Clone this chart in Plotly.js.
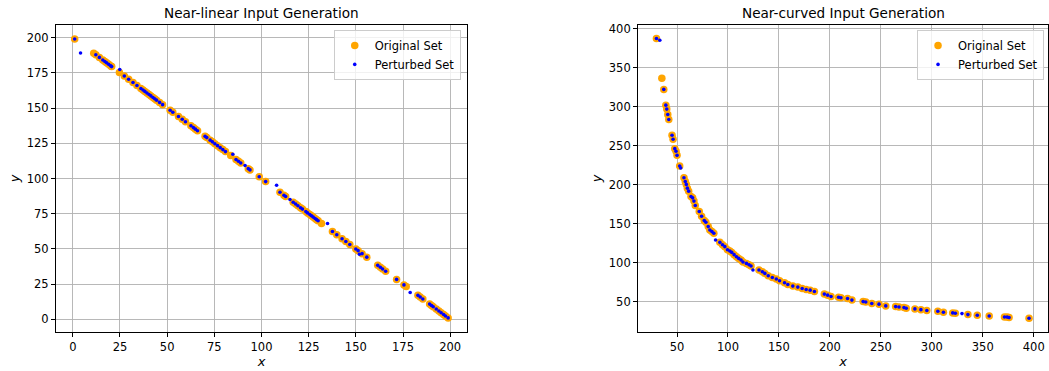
<!DOCTYPE html>
<html>
<head>
<meta charset="utf-8">
<script src="https://cdn.plot.ly/plotly-3.0.1.min.js"></script>
<style>html,body{margin:0;padding:0;background:#fff;}#chart{width:1049px;height:371px;}</style>
</head>
<body>
<div id="chart"></div>
<script>
// ---- Near-linear: original set ----
var linOrigX = [1.0, 11.1, 12.2, 14.1, 15.9, 17.0, 17.9, 19.0, 20.1, 20.6,
  24.7, 27.3, 29.6, 31.9, 34.0, 36.1, 37.2, 38.2, 39.3, 40.4, 41.4, 42.5, 43.4, 44.4, 46.0, 47.6,
  51.6, 53.0, 56.0, 58.0, 59.7, 62.6, 63.9, 65.0, 66.1,
  70.1, 71.0, 72.8, 74.0, 75.3, 76.7, 78.1, 79.5, 80.9, 83.7, 86.5, 87.8, 89.0, 93.0, 93.9,
  98.8, 102.2,
  109.8, 111.9, 112.8, 116.8, 118.1, 119.3, 120.7, 121.7, 123.5, 124.4, 125.6, 126.5, 127.4, 128.4, 129.2, 130.0, 131.8,
  137.6, 139.9, 142.7, 144.7, 146.8, 150.0, 151.2, 153.3, 155.8,
  161.6, 163.0, 164.2, 165.8, 171.6, 175.5, 176.7,
  182.9, 184.1, 185.5, 189.1, 190.1, 191.0, 192.6, 194.0, 195.2, 196.5, 197.5, 198.9];
var linOrigY = [199.0, 188.9, 187.8, 185.9, 184.1, 183.0, 182.1, 181.0, 179.9, 179.4,
  175.2, 172.7, 170.4, 168.1, 166.0, 163.9, 162.8, 161.8, 160.7, 159.6, 158.6, 157.5, 156.6, 155.6, 154.0, 152.4,
  148.4, 147.0, 144.0, 142.0, 140.3, 137.4, 136.1, 135.0, 133.9,
  129.9, 129.0, 127.2, 126.0, 124.7, 123.3, 121.9, 120.5, 119.1, 116.3, 113.5, 112.2, 111.0, 107.0, 106.1,
  101.2, 97.8,
  90.2, 88.1, 87.2, 83.2, 81.9, 80.7, 79.3, 78.3, 76.5, 75.6, 74.4, 73.5, 72.6, 71.6, 70.8, 70.0, 68.1,
  62.4, 60.1, 57.3, 55.3, 53.2, 50.0, 48.8, 46.7, 44.2,
  38.4, 37.0, 35.8, 34.2, 28.4, 24.5, 23.3,
  17.1, 15.9, 14.5, 10.9, 9.9, 9.0, 7.4, 6.0, 4.8, 3.5, 2.5, 1.1];
// ---- Near-linear: perturbed set ----
var linPertX = [1.0, 4.1, 12.2, 14.1, 15.9, 17.0, 17.9, 19.0, 20.1, 20.6,
  24.9, 27.3, 29.6, 31.9, 34.0, 36.1, 37.2, 38.2, 39.3, 40.4, 41.4, 42.5, 43.4, 44.4, 46.0, 47.6,
  51.6, 53.0, 56.0, 58.0, 59.7, 62.6, 63.9, 65.0, 66.1,
  70.1, 71.0, 72.8, 74.0, 75.3, 76.7, 78.1, 79.5, 80.9, 84.8, 86.5, 87.8, 89.0, 91.3, 93.0, 93.9,
  98.8, 102.2, 108.0,
  109.8, 111.9, 112.8, 115.1, 116.8, 118.1, 119.3, 120.7, 121.7, 123.5, 124.4, 125.6, 126.5, 127.4, 128.4, 129.2, 130.0, 135.0,
  137.6, 139.9, 142.7, 144.7, 146.8, 150.0, 151.2, 151.9, 153.3, 155.8,
  161.6, 163.0, 164.2, 165.8, 171.6, 175.5, 178.8,
  182.9, 184.1, 185.5, 189.1, 190.1, 191.0, 192.6, 194.0, 195.2, 196.5, 197.5, 198.9];
var linPertY = [199.0, 189.0, 187.8, 185.9, 184.1, 183.0, 182.1, 181.0, 179.9, 179.4,
  177.3, 172.7, 170.4, 168.1, 166.0, 163.9, 162.8, 161.8, 160.7, 159.6, 158.6, 157.5, 156.6, 155.6, 154.0, 152.4,
  148.4, 147.0, 144.0, 142.0, 140.3, 137.4, 136.1, 135.0, 133.9,
  129.9, 129.0, 127.2, 126.0, 124.7, 123.3, 121.9, 120.5, 119.1, 117.2, 113.5, 112.2, 111.0, 109.2, 107.0, 106.1,
  101.2, 97.8, 95.2,
  90.2, 88.1, 87.2, 85.1, 83.2, 81.9, 80.7, 79.3, 78.3, 76.5, 75.6, 74.4, 73.5, 72.6, 71.6, 70.8, 70.0, 68.1,
  62.4, 60.1, 57.3, 55.3, 53.2, 50.0, 48.8, 46.3, 46.7, 44.2,
  38.4, 37.0, 35.8, 34.2, 28.4, 24.5, 19.1,
  17.1, 15.9, 14.5, 10.9, 9.9, 9.0, 7.4, 6.0, 4.8, 3.5, 2.5, 1.1];

// ---- Near-curved: original set ----
var curOrigX = [29.8, 35.1, 37.0, 39.0, 39.9, 40.9, 41.9, 45.1, 46.1, 47.8, 49.0, 50.0, 52.6,
  56.8, 58.1, 59.1, 60.1, 61.4, 63.7, 65.3, 66.6, 67.9, 71.8, 74.1, 76.7, 78.3, 80.6, 82.2, 84.2, 86.1,
  92.0, 94.6, 96.9, 99.5, 101.8, 103.7, 106.0, 108.3, 110.5, 112.8, 114.7, 118.1, 120.6, 122.6,
  130.4, 133.7, 136.2, 139.5, 143.5, 147.4, 150.6, 155.5, 158.7, 163.6, 168.5, 172.8, 176.7, 180.6, 184.8,
  194.5, 197.8, 201.1, 208.5, 210.8, 217.3, 221.6, 232.6, 235.2, 241.1, 248.2, 254.8,
  264.5, 267.8, 272.7, 274.9, 283.4, 289.3, 295.1, 305.9, 311.4, 320.5, 323.1,
  335.4, 344.6, 356.3, 371.3, 373.9, 375.8, 395.4];
var curOrigY = [387.5, 336.5, 322.3, 302.1, 297.0, 290.1, 283.7, 263.5, 258.3, 246.3, 242.9, 237.7, 224.0,
  209.0, 204.2, 200.4, 195.6, 191.8, 185.0, 183.2, 179.0, 173.4, 165.6, 159.6, 154.0, 151.9, 146.3, 142.0, 139.9, 137.7,
  126.1, 123.1, 120.6, 116.7, 115.0, 113.2, 110.3, 107.7, 105.5, 103.4, 100.9, 99.1, 97.4, 95.7,
  90.6, 88.4, 86.3, 83.3, 81.1, 79.0, 76.8, 74.2, 72.0, 70.0, 68.7, 66.9, 65.6, 64.8, 63.0,
  59.7, 58.4, 56.6, 55.6, 55.0, 54.0, 52.0, 50.1, 49.5, 47.6, 46.8, 44.6,
  43.7, 43.2, 42.4, 41.6, 40.7, 39.8, 38.6, 37.8, 36.5, 35.6, 35.2,
  33.4, 32.6, 31.7, 30.4, 30.2, 29.6, 28.8];
// ---- Near-curved: perturbed set ----
var curPertX = [29.8, 33.1, 37.0, 39.0, 39.9, 40.9, 41.9, 45.1, 46.1, 47.8, 49.0, 50.0, 52.6, 53.6,
  56.8, 58.1, 59.1, 60.1, 61.4, 63.7, 65.3, 66.6, 67.9, 71.8, 74.1, 76.7, 78.3, 80.6, 82.2, 84.2, 86.1, 87.8,
  92.0, 94.6, 96.9, 99.5, 101.8, 103.7, 106.0, 108.3, 110.5, 112.8, 114.7, 118.1, 120.6, 122.6, 124.5,
  130.4, 133.7, 136.2, 139.5, 143.5, 147.4, 150.6, 155.5, 158.7, 163.6, 168.5, 172.8, 176.7, 180.6, 184.8,
  194.5, 197.8, 201.1, 208.5, 210.8, 217.3, 221.6, 232.6, 235.2, 241.1, 248.2, 254.8,
  264.5, 267.8, 272.7, 274.9, 283.4, 289.3, 295.1, 305.9, 311.4, 320.5, 323.1, 329.6,
  335.4, 344.6, 356.3, 371.3, 373.9, 375.8, 395.4];
var curPertY = [387.5, 385.4, 322.3, 302.1, 297.0, 290.1, 283.7, 263.5, 258.3, 246.3, 242.9, 237.7, 224.0, 221.4,
  209.0, 204.2, 200.4, 195.6, 191.8, 185.0, 183.2, 179.0, 173.4, 165.6, 159.6, 154.0, 151.9, 146.3, 142.0, 139.9, 137.7, 129.2,
  126.1, 123.1, 120.6, 116.7, 115.0, 113.2, 110.3, 107.7, 105.5, 103.4, 100.9, 99.1, 97.4, 95.7, 90.6,
  90.6, 88.4, 86.3, 83.3, 81.1, 79.0, 76.8, 74.2, 72.0, 70.0, 68.7, 66.9, 65.6, 64.8, 63.0,
  59.7, 58.4, 56.6, 55.6, 55.0, 54.0, 52.0, 50.1, 49.5, 47.6, 46.8, 44.6,
  43.7, 43.2, 42.4, 41.6, 40.7, 39.8, 38.6, 37.8, 36.5, 35.6, 35.2, 34.7,
  33.4, 32.6, 31.7, 30.4, 30.2, 29.6, 28.8];

var linTicks = [0, 25, 50, 75, 100, 125, 150, 175, 200];
var curXTicks = [50, 100, 150, 200, 250, 300, 350, 400];
var curYTicks = [50, 100, 150, 200, 250, 300, 350, 400];
var titles = ['Near-linear Input Generation', 'Near-curved Input Generation'];
var seriesNames = ['Original Set', 'Perturbed Set'];

var FONT = 'DejaVu Sans, sans-serif';
var orange = '#ffa500', blue = '#0000ff';

var traces = [
  {x: linOrigX, y: linOrigY, xaxis: 'x', yaxis: 'y', mode: 'markers', type: 'scatter', name: seriesNames[0],
   marker: {color: orange, size: 7.5}, legend: 'legend'},
  {x: linPertX, y: linPertY, xaxis: 'x', yaxis: 'y', mode: 'markers', type: 'scatter', name: seriesNames[1],
   marker: {color: blue, size: 3.6}, legend: 'legend'},
  {x: curOrigX, y: curOrigY, xaxis: 'x2', yaxis: 'y2', mode: 'markers', type: 'scatter', name: seriesNames[0],
   marker: {color: orange, size: 7.5}, legend: 'legend2'},
  {x: curPertX, y: curPertY, xaxis: 'x2', yaxis: 'y2', mode: 'markers', type: 'scatter', name: seriesNames[1],
   marker: {color: blue, size: 3.6}, legend: 'legend2'}
];

function axis(extra) {
  var a = {
    showline: true, mirror: true, linecolor: '#000', linewidth: 1,
    showgrid: true, gridcolor: '#b0b0b0', gridwidth: 0.9,
    zeroline: false, ticks: 'outside', ticklen: 4, tickwidth: 1, tickcolor: '#000',
    tickfont: {family: FONT, size: 11.5, color: '#000'},
    tickmode: 'array'
  };
  for (var k in extra) a[k] = extra[k];
  return a;
}

var legendCommon = {
  bgcolor: 'rgba(255,255,255,0.8)', bordercolor: '#cccccc', borderwidth: 1,
  font: {family: FONT, size: 11.5, color: '#000'},
  xanchor: 'right', yanchor: 'top', y: 0.984, tracegroupgap: 0
};

var layout = {
  width: 1049, height: 371,
  margin: {l: 56, r: 1, t: 25, b: 39},
  paper_bgcolor: '#fff', plot_bgcolor: '#fff',
  showlegend: true,
  xaxis: axis({domain: [0, 0.4143], range: [-8.9, 208.9], tickvals: linTicks, anchor: 'y',
    title: {text: '<i>x</i>', font: {family: FONT, size: 13, color: '#000'}, standoff: 3}}),
  yaxis: axis({domain: [0, 1], range: [-8.9, 208.9], tickvals: linTicks, anchor: 'x',
    title: {text: '<i>y</i>', font: {family: FONT, size: 13, color: '#000'}, standoff: 4}}),
  xaxis2: axis({domain: [0.5867, 1], range: [11.7, 414.0], tickvals: curXTicks, anchor: 'y2',
    title: {text: '<i>x</i>', font: {family: FONT, size: 13, color: '#000'}, standoff: 3}}),
  yaxis2: axis({domain: [0, 1], range: [11.1, 404.9], tickvals: curYTicks, anchor: 'x2',
    title: {text: '<i>y</i>', font: {family: FONT, size: 13, color: '#000'}, standoff: 4}}),
  legend: Object.assign({x: 0.408}, legendCommon),
  legend2: Object.assign({x: 0.996}, legendCommon),
  annotations: [
    {text: titles[0], xref: 'paper', yref: 'paper', x: 0.4143 / 2, y: 1, xanchor: 'center', yanchor: 'bottom',
     yshift: 2, showarrow: false, font: {family: FONT, size: 13.6, color: '#000'}},
    {text: titles[1], xref: 'paper', yref: 'paper', x: (0.5867 + 1) / 2, y: 1, xanchor: 'center', yanchor: 'bottom',
     yshift: 2, showarrow: false, font: {family: FONT, size: 13.6, color: '#000'}}
  ]
};

Plotly.newPlot('chart', traces, layout, {displayModeBar: false, staticPlot: true});
</script>
</body>
</html>
